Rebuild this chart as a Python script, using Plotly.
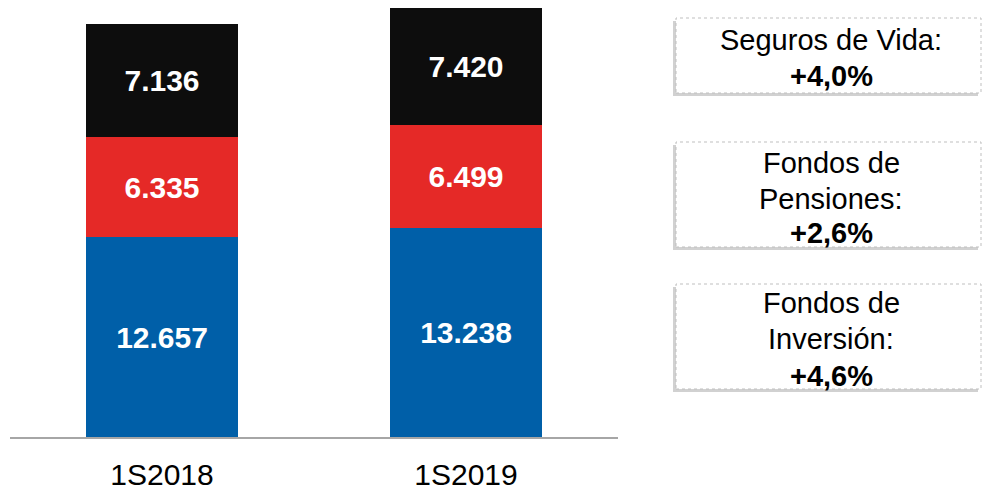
import plotly.graph_objects as go

W, H = 982, 491

categories = ["1S2018", "1S2019"]
fondos_inversion = [12657, 13238]
fondos_pensiones = [6335, 6499]
seguros_vida = [7136, 7420]

box_titles = [["Seguros de Vida:"], ["Fondos de", "Pensiones:"], ["Fondos de", "Inversión:"]]
box_growth = ["+4,0%", "+2,6%", "+4,6%"]

COL_BLUE = "#005FA8"
COL_RED = "#E52927"
COL_BLACK = "#0D0D0D"
FONT = "Arial, Liberation Sans, sans-serif"

fig = go.Figure()
for vals, col in [(fondos_inversion, COL_BLUE), (fondos_pensiones, COL_RED), (seguros_vida, COL_BLACK)]:
    fig.add_trace(go.Bar(
        x=categories, y=vals, marker=dict(color=col, line=dict(width=0)),
        texttemplate="<b>%{y:,.0f}</b>", textposition="inside", insidetextanchor="middle",
        textfont=dict(color="white", size=30, family=FONT), hoverinfo="skip",
    ))

# plot region in pixels
x0, x1 = 10, 618
ybot = 437
ymax = sum(v[1] for v in [fondos_inversion, fondos_pensiones, seguros_vida]) * 437 / 429

def px(x):
    return x / W

def py(y):
    return 1 - y / H

shapes = []
annotations = []
boxes = [(18, 93, [39, 75.5]), (142, 247, [162, 198, 231.5]), (284, 389, [302, 338, 375])]
bx0, bx1 = 676, 981
for (top, bottom, centers), title, growth in zip(boxes, box_titles, box_growth):
    shapes.append(dict(type="rect", xref="paper", yref="paper",
                       x0=px(bx0 - 3), x1=px(bx1 - 3), y0=py(bottom + 3), y1=py(top + 3),
                       fillcolor="rgba(0,0,0,0.18)", line=dict(width=0), layer="above"))
    shapes.append(dict(type="rect", xref="paper", yref="paper",
                       x0=px(bx0), x1=px(bx1), y0=py(bottom), y1=py(top),
                       fillcolor="white", line=dict(color="#BFBFBF", width=1, dash="dot"), layer="above"))
    lines = title + [growth]
    for i, (txt, cy) in enumerate(zip(lines, centers)):
        bold = i == len(lines) - 1
        annotations.append(dict(
            xref="paper", yref="paper", x=px(831), y=py(cy + 1),
            xanchor="center", yanchor="middle", showarrow=False,
            text=f"<b>{txt}</b>" if bold else txt,
            font=dict(size=29, color="black", family=FONT),
        ))

fig.update_layout(
    width=W, height=H, barmode="stack", bargap=0.5, showlegend=False,
    separators=",.",
    paper_bgcolor="white", plot_bgcolor="white",
    margin=dict(l=0, r=0, t=0, b=0),
    font=dict(family=FONT, color="black"),
    xaxis=dict(domain=[px(x0), px(x1)], range=[-0.5, 1.5], showline=True,
               linecolor="#A6A6A6", linewidth=2, showgrid=False, zeroline=False,
               ticks="outside", ticklen=10, tickcolor="rgba(0,0,0,0)",
               tickfont=dict(size=30, color="black", family=FONT)),
    yaxis=dict(domain=[1 - ybot / H, 1], range=[0, ymax], visible=False),
    shapes=shapes, annotations=annotations,
)

fig.write_html("out.html", config={"displayModeBar": False},
               post_script="document.body.style.margin='0';document.body.style.overflow='hidden';")
